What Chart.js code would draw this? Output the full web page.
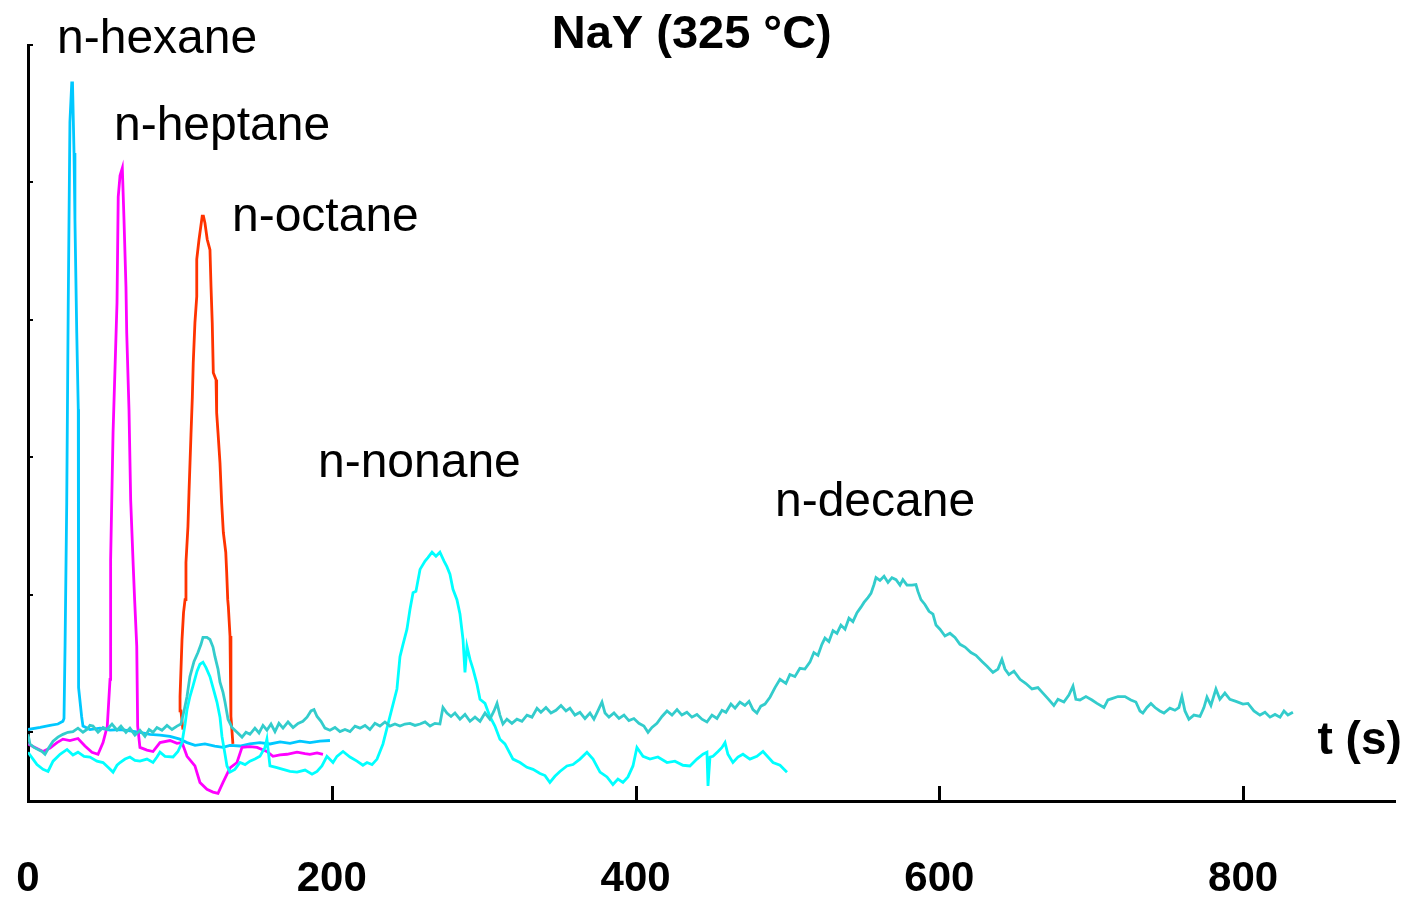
<!DOCTYPE html>
<html>
<head>
<meta charset="utf-8">
<title>NaY (325 °C)</title>
<script src="https://cdn.jsdelivr.net/npm/chart.js@4/dist/chart.umd.min.js"></script>
<style>
  html, body { margin: 0; padding: 0; background: #fff; }
  #wrap { width: 1410px; height: 900px; }
</style>
</head>
<body>
<div id="wrap"><canvas id="chart" width="1410" height="900"></canvas></div>
<script>
// Response traces on NaY at 325 °C, [time (s), signal (a.u.)]
const hexaneTrace = [
  [0, 0.4], [8, 0.7], [14.5, 1.0], [19.7, 1.2], [23, 1.6], [23.7, 2.0], [24.4, 12.6],
  [25.5, 33.4], [26.5, 62.5], [27.6, 88.8], [28.8, 94.5], [29.3, 94.5], [30.3, 84.3],
  [30.9, 74.6], [32.1, 58.1], [33.1, 47.0], [33.2, 19.3], [33.4, 6.5], [35.3, 2.3],
  [36.2, 0.9], [40.8, 0.4], [47.4, 0.6], [54, 0.3], [60.6, 0.4], [67.1, 0.2], [73.7, 0.0],
  [80.3, -0.3], [86.9, -0.4], [93.5, -0.6], [100, -1.0], [104.7, -1.5], [110, -1.9],
  [116.5, -1.7], [123, -2.0], [128.4, -2.2], [133, -1.9], [139.6, -2.0], [146, -1.7],
  [152.7, -1.5], [159.3, -1.7], [166, -1.4], [172.5, -1.6], [179, -1.3], [185.6, -1.5],
  [192.2, -1.3], [198.8, -1.2]
];

const heptaneTrace = [
  [0, -1.7], [4.6, -2.2], [9.9, -2.8], [14.5, -2.3], [19.1, -1.5], [23, -1.0], [27.6, -1.2],
  [32.9, -0.9], [37.5, -2.0], [42.1, -2.9], [46.1, -3.2], [49.4, -1.5], [52.2, 0.9],
  [54.0, 7.7], [54.2, 19.3], [54.6, 25.1], [56.0, 43.6], [58.6, 62.5], [59.4, 77.9],
  [60.6, 81.0], [62.1, 82.1], [63.2, 74.6], [64.5, 64.8], [65.0, 58.1], [66.5, 46.9],
  [67.6, 33.8], [69.3, 24.1], [70.2, 19.3], [71.6, 12.5], [72.2, 0.9], [73.7, -2.2],
  [78.3, -2.6], [82.3, -2.8], [86.9, -1.5], [93.5, -1.2], [98.1, -1.6], [101.4, -1.5],
  [104.7, -3.5], [109.9, -4.9], [113.2, -7.3], [117.8, -8.3], [121.8, -8.7], [125.1, -8.9],
  [128.4, -7.3], [133.0, -5.2], [137.6, -4.4], [140.9, -2.2], [146.1, -2.1], [150.8, -2.2],
  [157.3, -2.8], [161.3, -3.5], [165.9, -3.3], [170.5, -3.2], [177.1, -2.9], [182.4, -3.1],
  [185.6, -3.2], [190.3, -3.0], [194.2, -3.2]
];

const octaneTrace = [
  [102.0, 0.4], [100.7, 3.1], [100.1, 5.2], [101.4, 13.5], [102.4, 17.4], [103.4, 19.3],
  [104.0, 24.7], [105.3, 29.9], [106.0, 34.9], [107.3, 43.3], [108.2, 48.8], [108.8, 53.8],
  [109.9, 59.6], [111.1, 63.4], [111.1, 68.8], [112.6, 71.7], [114.7, 75.1], [115.5, 75.1],
  [116.5, 74.1], [118.0, 71.7], [119.8, 70.2], [120.5, 64.8], [121.3, 59.6], [122.0, 52.3],
  [123.8, 51.3], [124.2, 46.5], [125.1, 43.6], [126.4, 39.2], [127.5, 33.4], [128.6, 29.1],
  [130.2, 26.2], [130.8, 23.3], [131.5, 19.3], [131.9, 18.3], [133.0, 14.0], [133.6, 7.7],
  [133.6, 2.3], [134.9, -1.7]
];

const nonaneTrace = [
  [0, -2.9], [3.3, -3.9], [5.9, -4.7], [9.9, -5.4], [13.2, -5.7], [16.5, -4.2], [21.1, -3.2],
  [25.7, -2.5], [29.6, -3.3], [32.9, -2.9], [36.9, -3.5], [40.8, -3.6], [45.4, -4.2],
  [49.4, -4.4], [52.7, -5.1], [56.0, -5.8], [58.6, -4.8], [60.6, -4.4], [63.9, -3.9],
  [67.1, -3.6], [70.4, -4.1], [73.7, -4.2], [78.3, -3.9], [82.3, -4.4], [84.9, -3.6],
  [86.9, -2.9], [90.2, -3.5], [95.5, -3.6], [98.7, -2.8], [101.4, -1.5], [103.4, 1.2],
  [104.7, 3.3], [106.6, 5.2], [108.6, 6.7], [111.3, 8.9], [113.2, 9.9], [115.2, 10.2],
  [117.2, 9.4], [119.8, 8.1], [121.8, 6.5], [124.4, 4.4], [126.4, 2.2], [127.7, -0.6],
  [129.7, -3.2], [131.0, -4.9], [133.0, -5.8], [136.2, -5.4], [139.6, -4.4], [142.9, -4.7],
  [146.1, -4.2], [149.4, -3.9], [152.7, -3.5], [156.0, -2.2], [157.3, -1.0], [159.3, -4.9],
  [163.3, -5.1], [167.9, -5.4], [172.5, -5.7], [177.1, -5.8], [182.4, -5.5], [187.0, -6.1],
  [190.3, -5.7], [193.5, -4.9], [196.8, -3.5], [200.8, -4.4], [203.4, -3.5], [207.4, -2.8],
  [212.0, -3.6], [216.6, -4.2], [220.5, -4.8], [223.2, -4.4], [226.5, -4.7], [229.8, -3.9],
  [233.7, -1.7], [238.3, 2.3], [242.9, 6.3], [244.9, 11.0], [246.9, 12.8], [249.5, 15.0],
  [251.5, 17.9], [253.5, 20.3], [255.4, 20.5], [258.1, 23.7], [261.4, 24.9], [263.3, 25.4],
  [266.0, 26.2], [268.6, 25.6], [271.2, 26.2], [273.9, 24.9], [275.8, 24.1], [277.8, 23.0],
  [279.8, 20.8], [282.4, 19.3], [284.4, 17.2], [286.4, 13.5], [287.7, 8.7], [289.0, 12.5],
  [291.0, 10.6], [293.0, 9.2], [295.6, 7.0], [297.6, 4.8], [300.9, 4.2], [304.1, 2.3],
  [307.4, 0.9], [310.7, -1.0], [314.0, -1.7], [319.3, -3.9], [323.9, -4.4], [328.5, -5.1],
  [332.5, -5.4], [337.1, -6.0], [340.4, -6.3], [343.6, -7.3], [346.9, -6.4], [350.2, -5.7],
  [354.8, -4.9], [358.8, -4.7], [363.4, -3.9], [368.0, -2.9], [372.0, -3.9], [376.6, -5.8],
  [381.2, -6.5], [385.1, -7.6], [388.4, -6.8], [391.7, -7.3], [395.0, -6.5], [398.3, -4.9],
  [400.9, -2.2], [404.9, -3.5], [409.5, -3.9], [414.7, -3.6], [420.7, -4.4], [425.9, -4.2],
  [431.2, -4.8], [435.8, -4.9], [440.4, -3.9], [444.4, -3.2], [447.0, -2.9], [447.7, -7.8],
  [449.0, -3.6], [451.0, -3.5], [454.3, -2.8], [456.9, -2.2], [458.9, -1.5], [460.8, -3.2],
  [464.1, -4.4], [467.4, -3.6], [470.7, -3.2], [475.3, -3.9], [479.9, -3.5], [483.9, -2.8],
  [487.2, -3.6], [490.5, -4.4], [495.1, -4.8], [499.7, -5.8]
];

const decaneTrace = [
  [0, -0.3], [1.3, -1.7], [3.9, -2.2], [6.6, -2.5], [9.2, -2.8], [11.2, -3.2], [13.8, -2.2],
  [16.5, -1.3], [19.7, -0.7], [23.0, -0.3], [26.3, 0], [29.6, 0.1], [32.9, 0.6], [36.2, 0],
  [38.8, 0.4], [40.8, 1.0], [42.8, 0.9], [46.1, 0], [49.4, 0.7], [52.0, 0.4], [55.3, 1.2],
  [58.6, 0.3], [61.2, 0.9], [64.5, 0], [67.1, 0.6], [70.4, -0.4], [73.7, 0.3], [77.0, -0.6],
  [79.7, 0.4], [82.3, 0], [84.9, 0.7], [88.2, 0.3], [91.5, 1.0], [94.8, 0.4], [98.1, 0.9],
  [100.7, 1.2], [102.7, 3.1], [104.7, 5.2], [106.6, 8.1], [109.3, 10.3], [111.9, 11.6],
  [113.9, 12.8], [115.2, 13.8], [117.8, 13.8], [119.8, 13.5], [121.8, 12.4], [123.1, 11.0],
  [125.1, 9.2], [126.4, 7.3], [128.4, 5.8], [129.7, 4.4], [131.7, 1.9], [134.3, 0.7],
  [137.6, 0], [140.9, -0.7], [143.5, 0], [146.1, -0.3], [149.4, 0.6], [152.1, -0.1],
  [154.7, 1.0], [157.3, 0.3], [160.0, 1.2], [162.6, 0.1], [165.2, 1.3], [167.9, 0.6],
  [171.2, 1.5], [174.5, 0.7], [177.8, 1.3], [181.0, 1.6], [183.7, 2.2], [186.3, 3.1],
  [188.3, 3.3], [190.3, 2.3], [192.9, 1.6], [195.5, 0.6], [198.8, 0.3], [202.1, 0.7],
  [205.4, 0.1], [208.7, 0.4], [212.0, 0.1], [215.3, 0.9], [218.6, 0.6], [221.9, 1.0],
  [225.1, 0.4], [228.4, 1.3], [231.7, 0.9], [235.0, 1.5], [238.3, 0.9], [241.6, 1.2],
  [244.9, 0.9], [248.2, 1.2], [251.5, 1.3], [254.8, 1.0], [258.1, 1.2], [261.4, 1.5],
  [264.7, 0.9], [267.9, 1.3], [271.2, 1.2], [273.2, 3.6], [275.8, 2.8], [278.5, 2.3],
  [281.1, 2.8], [284.4, 1.9], [287.7, 2.6], [291.0, 1.6], [294.3, 2.2], [297.6, 1.6],
  [300.9, 2.8], [304.1, 1.9], [306.8, 3.1], [308.8, 4.2], [310.7, 2.5], [312.7, 1.2],
  [315.3, 1.9], [318.6, 1.3], [321.9, 1.9], [325.2, 1.6], [328.5, 2.5], [331.8, 2.2],
  [335.1, 3.5], [337.7, 2.9], [341.0, 3.6], [344.3, 2.8], [347.6, 3.2], [350.9, 3.9],
  [354.2, 3.1], [356.8, 3.5], [360.1, 2.5], [363.4, 2.9], [366.7, 2.0], [370.0, 2.8],
  [372.6, 1.9], [375.2, 3.1], [377.9, 4.4], [379.9, 2.8], [382.5, 2.2], [385.8, 2.8],
  [389.1, 2.0], [392.4, 2.5], [395.6, 1.7], [398.9, 2.0], [402.2, 1.3], [405.5, 0.9],
  [408.2, 0], [410.8, 0.7], [414.1, 1.3], [417.4, 2.3], [420.7, 3.1], [424.0, 2.5],
  [427.3, 3.3], [430.5, 2.5], [433.8, 2.9], [437.1, 2.2], [440.4, 2.6], [443.7, 1.9],
  [447.0, 1.5], [450.3, 2.5], [453.6, 2.0], [456.9, 3.2], [459.5, 2.9], [462.8, 4.1],
  [465.5, 3.5], [468.7, 4.4], [472.0, 3.9], [474.7, 4.5], [477.3, 3.3], [479.9, 2.8],
  [482.5, 3.8], [485.2, 4.1], [488.5, 5.1], [491.8, 6.5], [495.1, 7.7], [499.0, 7.1],
  [501.6, 8.4], [504.9, 8.1], [508.2, 9.3], [511.5, 9.2], [514.8, 10.2], [517.4, 11.6],
  [520.1, 11.2], [522.7, 12.8], [524.7, 13.7], [527.3, 13.2], [530.0, 14.8], [532.6, 14.4],
  [535.2, 15.6], [537.9, 15.0], [540.5, 16.6], [543.1, 16.1], [545.8, 17.4], [548.4, 18.2],
  [550.4, 18.9], [553.0, 19.6], [555.0, 20.2], [557.0, 21.5], [558.3, 22.5], [560.9, 22.1],
  [563.6, 22.7], [566.2, 21.8], [568.8, 22.5], [571.5, 22.2], [574.1, 21.4], [576.0, 22.2],
  [578.7, 21.4], [582.0, 21.4], [584.6, 21.5], [585.9, 20.5], [587.9, 19.3], [590.5, 18.6],
  [593.2, 17.6], [595.8, 17.2], [597.8, 15.6], [600.4, 15.0], [603.7, 14.0], [607.0, 14.4],
  [610.3, 13.8], [613.6, 12.8], [616.9, 12.4], [620.8, 11.6], [624.1, 11.2], [628.1, 10.3],
  [631.4, 9.6], [635.3, 8.7], [638.6, 9.2], [641.2, 10.6], [643.2, 9.2], [645.8, 8.4],
  [649.1, 8.9], [653.1, 7.7], [657.0, 7.1], [661.0, 6.3], [664.9, 6.5], [668.2, 5.7],
  [671.5, 4.9], [675.4, 3.9], [678.1, 4.8], [682.0, 4.4], [685.3, 5.4], [688.0, 6.7],
  [689.9, 4.8], [692.6, 4.7], [696.5, 5.2], [700.5, 4.7], [703.8, 4.2], [708.4, 3.6],
  [711.0, 4.7], [713.6, 4.9], [717.6, 5.2], [722.2, 5.2], [726.1, 4.7], [729.4, 4.4],
  [732.1, 3.1], [734.0, 2.8], [736.7, 3.6], [739.3, 4.2], [742.0, 3.6], [745.2, 3.1],
  [747.9, 2.8], [751.8, 3.5], [755.1, 3.2], [757.7, 3.6], [759.7, 5.2], [761.7, 3.1],
  [764.3, 1.9], [767.6, 2.5], [771.6, 2.3], [774.2, 3.6], [776.2, 5.1], [778.8, 3.9],
  [782.1, 6.3], [784.7, 4.8], [788.0, 5.7], [791.3, 4.8], [795.3, 4.5], [799.9, 4.1],
  [803.2, 4.2], [807.1, 3.1], [811.1, 2.5], [814.4, 2.9], [817.7, 2.2], [821.0, 2.6],
  [824.3, 2.2], [826.9, 3.1], [829.5, 2.5], [832.8, 2.9]
];

const seriesNames = ['n-decane', 'n-nonane', 'n-octane', 'n-heptane', 'n-hexane'];
const xTicks = [0, 200, 400, 600, 800];

const FONT = '"Liberation Sans", Arial, Helvetica, sans-serif';

// text placed in data coordinates: [text, t, signal, font, align]
const annotations = [
  ['NaY (325 °C)', 437, 99.6, 'bold 47px ' + FONT, 'center'],
  ['n-hexane', 19.1, 98.8, '48px ' + FONT, 'left'],
  ['n-heptane', 56.6, 86.2, '48px ' + FONT, 'left'],
  ['n-octane', 134.3, 73.0, '48px ' + FONT, 'left'],
  ['n-nonane', 190.9, 37.1, '48px ' + FONT, 'left'],
  ['n-decane', 491.8, 31.5, '48px ' + FONT, 'left'],
  ['t (s)', 904.5, -3.2, 'bold 46px ' + FONT, 'right']
];

const toPoints = trace => trace.map(([t, s]) => ({ x: t, y: s }));

const traces = [decaneTrace, nonaneTrace, octaneTrace, heptaneTrace, hexaneTrace];
const colors = ['#33CCCC', '#00FFFF', '#FF3300', '#FF00FF', '#00C8FF'];

// inward tick marks on both axes
const innerTicks = {
  id: 'innerTicks',
  beforeDatasetsDraw(chart) {
    const { ctx, chartArea, scales } = chart;
    ctx.save();
    ctx.strokeStyle = '#000';
    ctx.lineWidth = 3;
    scales.x.ticks.forEach(tick => {
      if (tick.value === 0) return;
      const px = Math.round(scales.x.getPixelForValue(tick.value)) + 0.5;
      ctx.beginPath();
      ctx.moveTo(px, chartArea.bottom);
      ctx.lineTo(px, chartArea.bottom - 15);
      ctx.stroke();
    });
    ctx.lineWidth = 2;
    scales.y.ticks.forEach(tick => {
      const py = Math.round(scales.y.getPixelForValue(tick.value));
      ctx.beginPath();
      ctx.moveTo(chartArea.left, py);
      ctx.lineTo(chartArea.left + 5, py);
      ctx.stroke();
    });
    ctx.restore();
  }
};

const textLabels = {
  id: 'textLabels',
  afterDraw(chart) {
    const { ctx, scales } = chart;
    ctx.save();
    ctx.fillStyle = '#000';
    ctx.textBaseline = 'alphabetic';
    annotations.forEach(([text, t, s, font, align]) => {
      ctx.font = font;
      ctx.textAlign = align;
      ctx.fillText(text, scales.x.getPixelForValue(t), scales.y.getPixelForValue(s));
    });
    ctx.restore();
  }
};

new Chart(document.getElementById('chart'), {
  type: 'line',
  data: {
    datasets: traces.map((trace, i) => ({
      label: seriesNames[i],
      data: toPoints(trace),
      borderColor: colors[i],
      borderWidth: 2.8,
      pointRadius: 0,
      tension: 0,
      fill: false
    }))
  },
  options: {
    responsive: false,
    devicePixelRatio: 1,
    animation: false,
    layout: { padding: { left: 28, right: 15, top: 45, bottom: 0 } },
    plugins: {
      legend: { display: false },
      tooltip: { enabled: false }
    },
    scales: {
      x: {
        type: 'linear',
        min: 0,
        max: 900,
        grid: { display: false, drawTicks: false },
        border: { display: true, color: '#000', width: 3 },
        afterBuildTicks: scale => { scale.ticks = xTicks.map(v => ({ value: v })); },
        // keep the wide label gap from widening the plot margins
        afterFit: scale => {
          scale.paddingLeft = 12;
          scale.paddingRight = 0;
          scale.height = 99;
        },
        ticks: {
          color: '#000',
          padding: 57,
          maxRotation: 0,
          autoSkip: false,
          font: { family: FONT, size: 42, weight: 'bold', lineHeight: 1 }
        }
      },
      y: {
        type: 'linear',
        min: -10,
        max: 100,
        grid: { display: false, drawTicks: false },
        border: { display: true, color: '#000', width: 3 },
        ticks: { display: false, stepSize: 20, includeBounds: false }
      }
    }
  },
  plugins: [innerTicks, textLabels]
});
</script>
</body>
</html>
